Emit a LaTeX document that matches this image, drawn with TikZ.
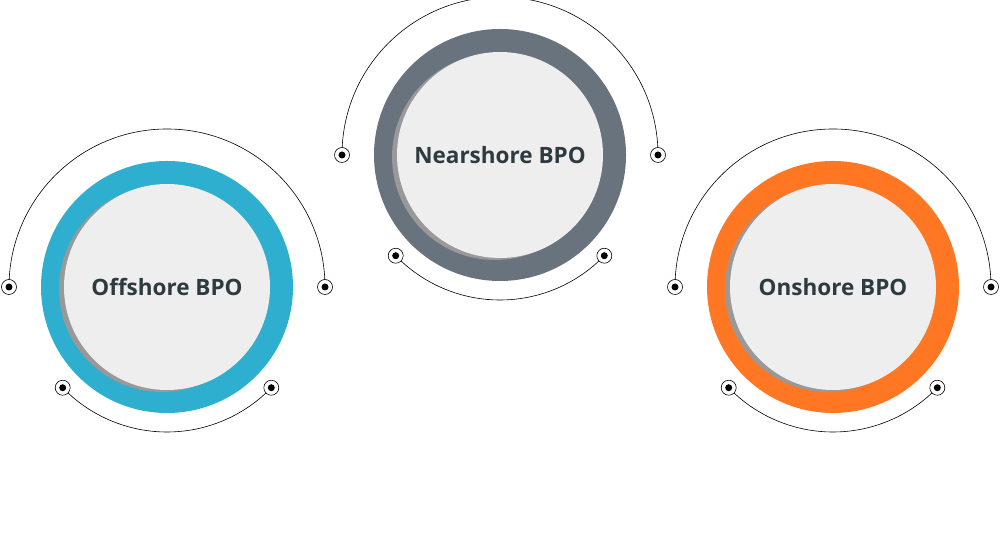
\documentclass[tikz,border=0pt]{standalone}
\usepackage{fontspec}
\setmainfont{Open Sans}
\definecolor{cblue}{HTML}{2EAFCF}
\definecolor{cgray}{HTML}{68737D}
\definecolor{corange}{HTML}{FF7722}
\definecolor{cinner}{HTML}{EEEEEE}
\definecolor{ctext}{HTML}{2D3A40}
\tikzset{
  ring/.style={circle,minimum size=252pt,inner sep=0pt},
  dotmark/.style={circle,fill=black,minimum size=7pt,inner sep=0pt},
  dotring/.style={circle,draw=black,line width=0.6pt,minimum size=15pt,inner sep=0pt},
  arcline/.style={draw=black,line width=0.6pt},
  label/.style={font=\bfseries\fontsize{22.5pt}{26pt}\selectfont,text=ctext}
}
\newcommand{\unit}[4]{% name, x, y, color
  \fill[#4] (#2,#3) circle (126);
  \fill[black!40] (#2-5,#3-2) circle (103);
  \fill[cinner] (#2,#3) circle (103);
  \node[label] (#1) at (#2,#3) {};
  \draw[arcline] (#2-158,#3) arc (180:0:158);
  \draw[arcline] ({#2+145*cos(224)},{#3+145*sin(224)}) arc (224:316:145);
  \foreach \p/\q in {a/{(#2-158,#3)},b/{(#2+158,#3)},c/{({#2+145*cos(224)},{#3+145*sin(224)})},d/{({#2+145*cos(316)},{#3+145*sin(316)})}}{
    \node[dotring,fill=white] (#1\p) at \q {};
    \node[dotmark] at (#1\p) {};
  }
}
\begin{document}
\begin{tikzpicture}[x=1pt,y=1pt]
\useasboundingbox (0,0) rectangle (1000,556);
\unit{off}{167}{269}{cblue}
\unit{near}{500}{401}{cgray}
\unit{on}{833}{269}{corange}
\node[label] at (off) {Offshore BPO};
\node[label] at (near) {Nearshore BPO};
\node[label] at (on) {Onshore BPO};
\end{tikzpicture}
\end{document}
